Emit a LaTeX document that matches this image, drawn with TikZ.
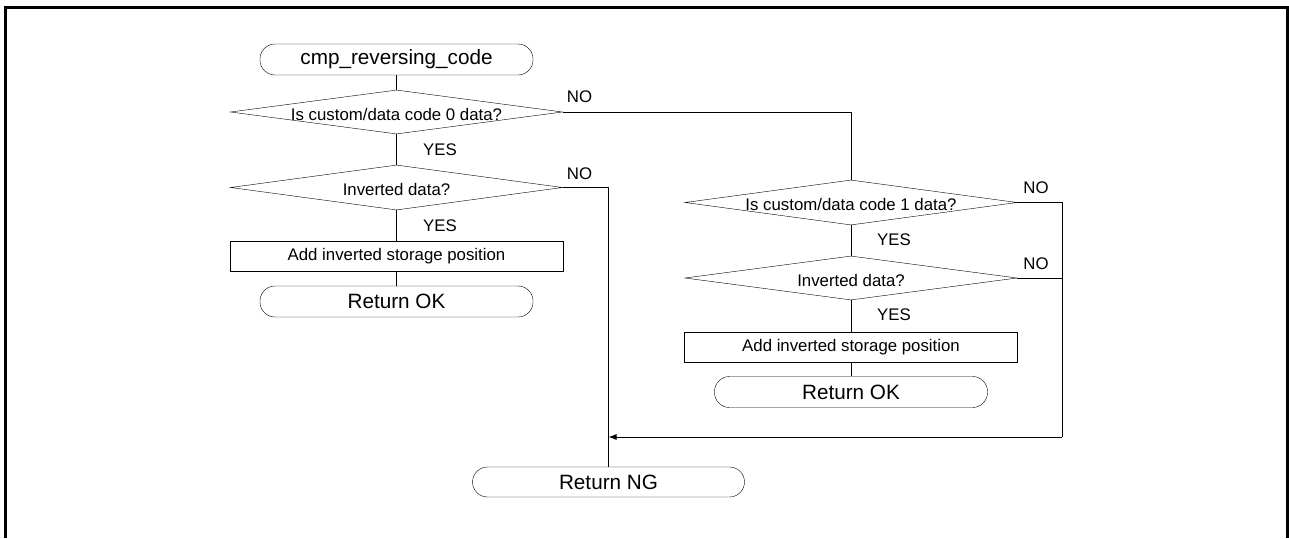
\documentclass[tikz,border=0pt]{standalone}
\usepackage{fontspec}
\setmainfont{Liberation Sans}
\usetikzlibrary{shapes.geometric,arrows.meta}
\newcommand\fbig{\fontsize{20.7}{24}\selectfont}
\newcommand\fsmall{\fontsize{16.8}{20}\selectfont}
\tikzset{
  term/.style={draw, rounded corners=15pt, minimum width=273pt, minimum height=31pt, inner sep=0pt, font=\fbig},
  dec/.style={draw, diamond, minimum width=332pt, minimum height=44pt, inner sep=0pt},
  dtext/.style={inner sep=0pt, font=\fsmall, yshift=-2pt},
  proc/.style={draw, minimum width=333pt, minimum height=30pt, inner sep=0pt, font=\fsmall},
  lbl/.style={inner sep=0pt, font=\fsmall},
  conn/.style={line width=0.9pt},
}
\begin{document}
\begin{tikzpicture}[x=1pt,y=-1pt]
\useasboundingbox (0,0) rectangle (1289,538);
\draw[line width=3pt] (5.5,538) -- (5.5,7) -- (1287.3,7) -- (1287.3,538);

% left column
\node[term] (st) at (396.5,59.5) {cmp\_reversing\_code};
\node[dec] (d1) at (396.5,112) {};
\node[dtext] (d1t) at (d1) {Is custom/data code 0 data?};
\node[dec, minimum height=45pt] (d2) at (396.5,187.5) {};
\node[dtext] (d2t) at (d2) {Inverted data?};
\node[proc] (p1) at (396.5,256) {Add inverted storage position};
\node[term] (ok1) at (396.5,301.5) {Return OK};

% right column
\node[dec, minimum height=45pt] (d3) at (851,202.5) {};
\node[dtext] (d3t) at (d3) {Is custom/data code 1 data?};
\node[dec] (d4) at (851,278) {};
\node[dtext] (d4t) at (d4) {Inverted data?};
\node[proc] (p2) at (851,347) {Add inverted storage position};
\node[term] (ok2) at (851,392) {Return OK};

\node[term, minimum width=272pt, minimum height=30pt] (ng) at (608.5,482) {Return NG};

\coordinate (c1) at (1062,202.5);
\coordinate (c2) at (1062,437);

% connectors
\draw[conn] (st.south) -- (d1.north);
\draw[conn] (d1.south) -- (d2.north);
\draw[conn] (d2.south) -- (p1.north);
\draw[conn] (p1.south) -- (ok1.north);
\draw[conn] (d1.east) -- (d1.east -| d3.north) -- (d3.north);
\draw[conn] (d2.east) -- (d2.east -| ng.north) -- (ng.north);
\draw[conn] (d3.south) -- (d4.north);
\draw[conn] (d4.south) -- (p2.north);
\draw[conn] (p2.south) -- (ok2.north);
\draw[conn] (d3.east) -- (c1) -- (c2);
\draw[conn] (d4.east) -- (d4.east -| c1);
\draw[conn, -{Latex[length=8pt,width=6pt]}] (c2) -- (c2 -| ng.north);

% labels
\node[lbl] (n1) at (579.5,97) {NO};
\node[lbl] (y1) at (440,150) {YES};
\node[lbl] (n2) at (579.5,173.5) {NO};
\node[lbl] (y2) at (440,225.5) {YES};
\node[lbl] (n3) at (1036,188) {NO};
\node[lbl] (y3) at (894,240) {YES};
\node[lbl] (n4) at (1036,264) {NO};
\node[lbl] (y4) at (894,315) {YES};
\end{tikzpicture}
\end{document}
